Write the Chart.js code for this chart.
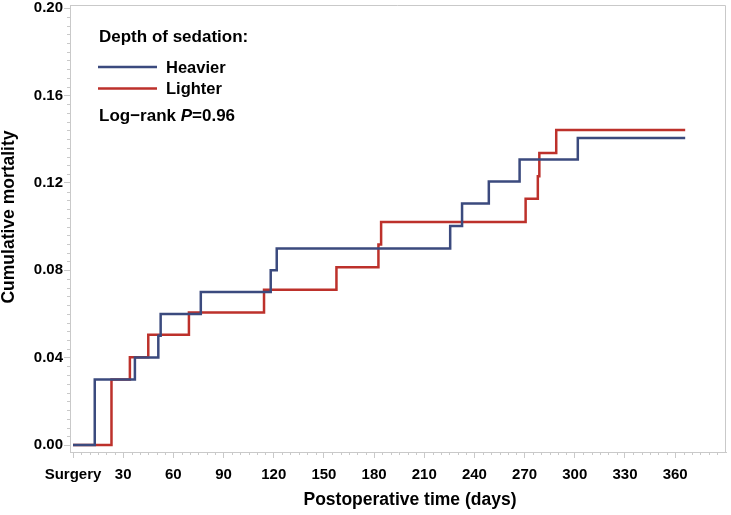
<!DOCTYPE html>
<html>
<head>
<meta charset="utf-8">
<script src="https://cdn.jsdelivr.net/npm/chart.js@4.4.1/dist/chart.umd.min.js"></script>
<style>
html, body { margin: 0; padding: 0; background: #fff; }
#contenedor { width: 731px; height: 515px; position: relative; }
</style>
</head>
<body>
<div id="contenedor"><canvas id="grafico"></canvas></div>
<script>
// Datos (dias desde la cirugia, mortalidad acumulada)
var grupos = ['Heavier', 'Lighter'];
var diasHeavier = [0, 13, 37, 51, 52.4, 76.4, 118.2, 121.8, 225.5, 232.6, 248.6, 267, 301.8, 366];
var mortHeavier = [0, 0.030, 0.040, 0.050, 0.060, 0.070, 0.080, 0.090, 0.1003, 0.1105, 0.1206, 0.1307, 0.1405, 0.1405];
var diasLighter = [0, 23, 34, 45, 69.3, 114.2, 157.5, 182.6, 184.2, 270.6, 277.9, 278.8, 288.9, 366];
var mortLighter = [0, 0.030, 0.0402, 0.0505, 0.0607, 0.0711, 0.0814, 0.0918, 0.1021, 0.1127, 0.1230, 0.1337, 0.1442, 0.1442];
var ticksX = [0, 30, 60, 90, 120, 150, 180, 210, 240, 270, 300, 330, 360];
var ticksY = [0, 0.04, 0.08, 0.12, 0.16, 0.20];
var colores = ['#3b4a7e', '#bd312b'];
var tituloX = 'Postoperative time (days)';
var tituloY = 'Cumulative mortality';
var tituloLeyenda = 'Depth of sedation:';
var textoPrueba = 'P';
var valorPrueba = '=0.96';

function puntos(dias, valores) {
    var lista = [];
    for (var i = 0; i < dias.length; i++) {
        lista.push({ x: dias[i], y: valores[i] });
    }
    return lista;
}

var fuente = '"Liberation Sans", Arial, sans-serif';
var gris = '#c9c9c9';

// marco del area, ticks menores y titulos de los ejes
var marco = {
    id: 'marco',
    afterDraw: function (chart) {
        var ctx = chart.ctx, a = chart.chartArea;
        var sx = chart.scales.x, sy = chart.scales.y;
        ctx.save();
        ctx.strokeStyle = gris;
        ctx.lineWidth = 1;
        ctx.beginPath();
        ctx.moveTo(a.left, a.top + 0.5);
        ctx.lineTo(a.right - 0.5, a.top + 0.5);
        ctx.lineTo(a.right - 0.5, a.bottom);
        ctx.stroke();
        ctx.beginPath();
        for (var d = 5; d <= 390; d += 5) {
            if (d % 30 === 0) continue;
            var px = Math.round(sx.getPixelForValue(d)) + 0.5;
            ctx.moveTo(px, a.bottom);
            ctx.lineTo(px, a.bottom + 3);
        }
        for (var k = 1; k <= 50; k++) {
            if (k % 10 === 0) continue;
            var py = Math.round(sy.getPixelForValue(k * 0.004)) + 0.5;
            ctx.moveTo(a.left, py);
            ctx.lineTo(a.left - 3, py);
        }
        ctx.stroke();

        ctx.fillStyle = '#000';
        ctx.font = 'bold 17.5px ' + fuente;
        ctx.textAlign = 'center';
        ctx.textBaseline = 'middle';
        ctx.fillText(tituloX, a.left + 340, a.bottom + 48);
        ctx.translate(9, a.top + 212);
        ctx.rotate(-Math.PI / 2);
        ctx.fillText(tituloY, 0, 0);
        ctx.restore();
    }
};

// leyenda dentro del grafico
var leyenda = {
    id: 'leyenda',
    afterDraw: function (chart) {
        var ctx = chart.ctx, a = chart.chartArea;
        var x0 = a.left + 29, y0 = a.top;
        ctx.save();
        ctx.fillStyle = '#000';
        ctx.textBaseline = 'middle';
        ctx.textAlign = 'left';
        ctx.font = 'bold 17px ' + fuente;
        ctx.fillText(tituloLeyenda, x0, y0 + 32);
        for (var i = 0; i < grupos.length; i++) {
            var yl = y0 + 62 + i * 21.5;
            ctx.strokeStyle = colores[i];
            ctx.lineWidth = 2.5;
            ctx.beginPath();
            ctx.moveTo(x0 - 1, yl);
            ctx.lineTo(x0 + 58, yl);
            ctx.stroke();
            ctx.font = 'bold 16.5px ' + fuente;
            ctx.fillText(grupos[i], x0 + 67, yl + 1);
        }
        var yp = y0 + 111;
        ctx.font = 'bold 17px ' + fuente;
        ctx.fillText('Log\u2212rank ', x0, yp);
        var w = ctx.measureText('Log\u2212rank ').width;
        ctx.font = 'italic bold 17px ' + fuente;
        ctx.fillText(textoPrueba, x0 + w, yp);
        w += ctx.measureText(textoPrueba).width;
        ctx.font = 'bold 17px ' + fuente;
        ctx.fillText(valorPrueba, x0 + w, yp);
        ctx.restore();
    }
};

var ctx = document.getElementById('grafico');
var grafico = new Chart(ctx, {
    type: 'line',
    data: {
        datasets: [{
            label: grupos[0],
            data: puntos(diasHeavier, mortHeavier),
            borderColor: colores[0],
            borderWidth: 2.5,
            stepped: 'before',
            pointRadius: 0,
            fill: false
        }, {
            label: grupos[1],
            data: puntos(diasLighter, mortLighter),
            borderColor: colores[1],
            borderWidth: 2.5,
            stepped: 'before',
            pointRadius: 0,
            fill: false
        }]
    },
    options: {
        animation: false,
        responsive: true,
        maintainAspectRatio: false,
        layout: { padding: { left: 0, top: 5, right: 5, bottom: 0 } },
        plugins: {
            legend: { display: false },
            tooltip: { enabled: false }
        },
        scales: {
            x: {
                type: 'linear',
                min: -1.8,
                max: 390.4,
                afterBuildTicks: function (s) {
                    s.ticks = ticksX.map(function (v) { return { value: v }; });
                },
                afterFit: function (s) {
                    s.height = 63;
                    s.paddingLeft = 0;
                    s.paddingRight = 0;
                },
                ticks: {
                    autoSkip: false,
                    maxRotation: 0,
                    padding: 8,
                    color: '#000',
                    font: { family: fuente, size: 15, weight: 'bold' },
                    callback: function (v) { return v === 0 ? 'Surgery' : String(v); }
                },
                grid: { drawOnChartArea: false, tickLength: 6, tickColor: gris },
                border: { color: gris }
            },
            y: {
                min: -0.0032,
                max: 0.2014,
                afterBuildTicks: function (s) {
                    s.ticks = ticksY.map(function (v) { return { value: v }; });
                },
                afterFit: function (s) {
                    s.width = 70;
                    s.paddingTop = 0;
                    s.paddingBottom = 0;
                },
                ticks: {
                    padding: 1,
                    color: '#000',
                    font: { family: fuente, size: 15, weight: 'bold' },
                    callback: function (v) { return v.toFixed(2); }
                },
                grid: { drawOnChartArea: false, tickLength: 6, tickColor: gris },
                border: { color: gris }
            }
        }
    },
    plugins: [marco, leyenda]
});
</script>
</body>
</html>
